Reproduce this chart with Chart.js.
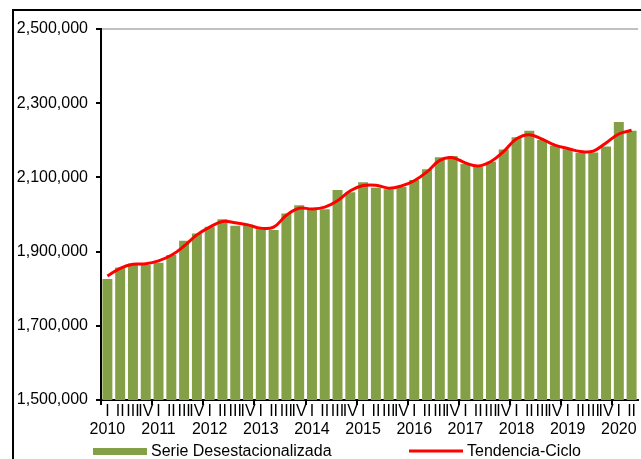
<!DOCTYPE html>
<html>
<head>
<meta charset="utf-8">
<script src="https://cdn.jsdelivr.net/npm/chart.js@4"></script>
<style>
  html, body { margin: 0; padding: 0; background: #fff; overflow: hidden; width: 641px; height: 459px; }
  #frame { position: absolute; left: 12px; top: 9px; width: 700px; height: 500px; border-left: 2px solid #000; border-top: 2px solid #000; }
  #wrap { position: absolute; left: 0; top: 0; width: 641px; height: 459px; }
</style>
</head>
<body>
<div id="frame"></div>
<div id="wrap"><canvas id="c" width="641" height="459"></canvas></div>
<script>
const years = ['2010','2011','2012','2013','2014','2015','2016','2017','2018','2019','2020'];
const quarters = ['I','II','III','IV'];
const seriesLabels = ['Serie Desestacionalizada', 'Tendencia-Ciclo'];
const desestacionalizada = [
  1826000, 1857000, 1868000, 1864000,
  1870000, 1891000, 1929000, 1949000,
  1967000, 1987000, 1970000, 1973000,
  1960000, 1958000, 2003000, 2025000,
  2012000, 2014000, 2066000, 2060000,
  2087000, 2072000, 2068000, 2075000,
  2093000, 2122000, 2154000, 2158000,
  2136000, 2129000, 2142000, 2175000,
  2208000, 2226000, 2201000, 2185000,
  2176000, 2166000, 2167000, 2183000,
  2249000, 2226000
];
const tendencia = [
  1834000, 1855000, 1866000, 1867000,
  1875000, 1890000, 1915000, 1945000,
  1966000, 1981000, 1978000, 1972000,
  1963000, 1966000, 1998000, 2017000,
  2015000, 2020000, 2037000, 2064000,
  2078000, 2079000, 2071000, 2077000,
  2091000, 2115000, 2146000, 2153000,
  2139000, 2131000, 2143000, 2170000,
  2204000, 2215000, 2203000, 2187000,
  2178000, 2170000, 2171000, 2193000,
  2217000, 2227000
];
const yMin = 1500000, yMax = 2500000, yStep = 200000;

const labels = desestacionalizada.map((v, i) => {
  const q = quarters[i % 4];
  return i % 4 === 0 ? [q, years[Math.floor(i / 4)]] : q;
});

const FONT = "'Liberation Sans', Arial, sans-serif";
Chart.defaults.font.family = FONT;
Chart.defaults.font.size = 16;
Chart.defaults.color = '#000';

const barColor = '#84A046';
const lineColor = '#FF0000';

const legendPlugin = {
  id: 'customLegend',
  afterDraw(chart) {
    const ctx = chart.ctx;
    const ds = chart.data.datasets;
    ctx.save();
    ctx.font = '16px ' + FONT;
    ctx.textBaseline = 'middle';
    ctx.textAlign = 'left';
    ctx.fillStyle = ds[0].backgroundColor;
    ctx.fillRect(93, 448, 54, 7);
    ctx.fillStyle = '#000';
    ctx.fillText(ds[0].label, 151, 452);
    ctx.strokeStyle = ds[1].borderColor;
    ctx.lineWidth = 3;
    ctx.beginPath();
    ctx.moveTo(409, 451);
    ctx.lineTo(463, 451);
    ctx.stroke();
    ctx.fillStyle = '#000';
    ctx.fillText(ds[1].label, 467, 452);
    ctx.restore();
  }
};

new Chart(document.getElementById('c'), {
  data: {
    labels: labels,
    datasets: [
      {
        type: 'bar',
        label: seriesLabels[0],
        data: desestacionalizada,
        backgroundColor: barColor,
        borderWidth: 0,
        barPercentage: 0.78,
        categoryPercentage: 1.0,
        order: 2
      },
      {
        type: 'line',
        label: seriesLabels[1],
        data: tendencia,
        borderColor: lineColor,
        backgroundColor: lineColor,
        borderWidth: 3,
        pointRadius: 0,
        tension: 0.4,
        fill: false,
        order: 1
      }
    ]
  },
  options: {
    responsive: false,
    animation: false,
    devicePixelRatio: 1,
    layout: { padding: { top: 29, right: 3, bottom: 25, left: 0 } },
    plugins: {
      legend: { display: false },
      tooltip: { enabled: false }
    },
    scales: {
      x: {
        offset: true,
        border: { display: true, color: '#000', width: 2 },
        grid: {
          offset: true,
          drawOnChartArea: true,
          color: (c) => (c.index === labels.length ? '#c0c0c0' : 'rgba(0,0,0,0)'),
          lineWidth: 2,
          tickLength: 5,
          tickColor: (c) => (c.index % 4 === 0 && c.index < labels.length ? '#000' : 'rgba(0,0,0,0)'),
          tickWidth: 2
        },
        ticks: {
          autoSkip: false,
          maxRotation: 0,
          minRotation: 0,
          padding: -3,
          font: { size: 16, lineHeight: 1.15 }
        },
        afterFit: (s) => { s.height = 34; }
      },
      y: {
        min: yMin,
        max: yMax,
        border: { display: true, color: '#000', width: 2 },
        grid: {
          drawOnChartArea: true,
          color: (c) => (c.tick && c.tick.value === yMax ? '#c0c0c0' : 'rgba(0,0,0,0)'),
          lineWidth: 2,
          tickLength: 5,
          tickColor: '#000',
          tickWidth: 2
        },
        ticks: {
          stepSize: yStep,
          padding: 8,
          callback: (v) => Number(v).toLocaleString('en-US')
        },
        afterFit: (s) => { s.width = 101; }
      }
    }
  },
  plugins: [legendPlugin]
});
</script>
</body>
</html>
